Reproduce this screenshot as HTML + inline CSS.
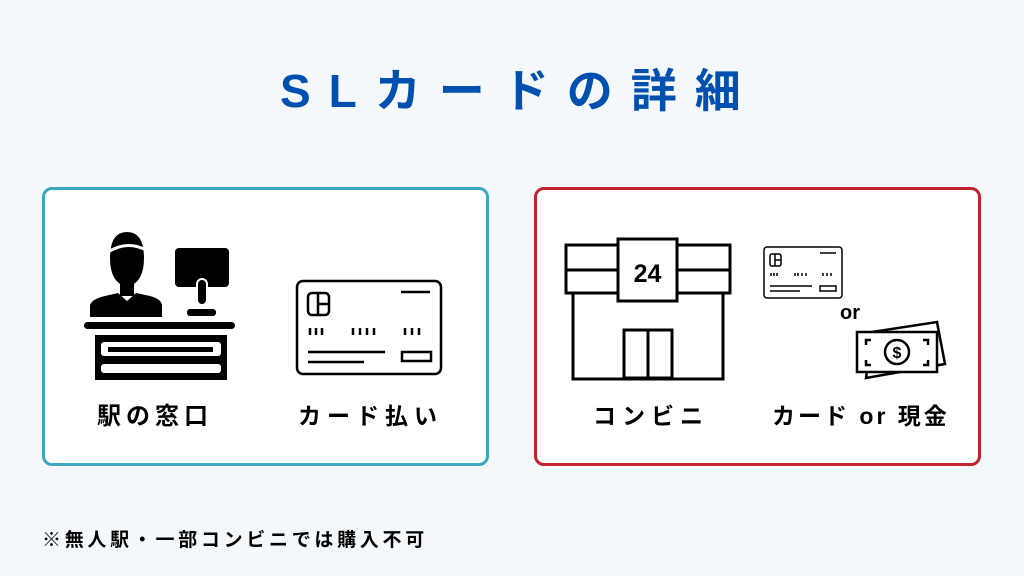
<!DOCTYPE html>
<html><head><meta charset="utf-8"><style>
body{margin:0;width:1024px;height:576px;background:#f4f8fb;position:relative;overflow:hidden;font-family:"Liberation Sans","Noto Sans CJK JP",sans-serif;}
.t{position:absolute;font-weight:bold;white-space:nowrap;line-height:1;}
.box{position:absolute;top:187px;width:441px;height:273px;background:#fff;border-radius:10px;border:3px solid;}
</style></head><body>
<div class="t" style="left:280px;top:68px;font-size:46px;color:#0050b0;letter-spacing:18px;">SLカードの詳細</div>
<div class="box" style="left:42px;border-color:#3aa9bd"></div>
<div class="box" style="left:534px;border-color:#c0222e"></div>
<svg width="1024" height="576" style="position:absolute;left:0;top:0">
<path d="M110 258 Q110 232 127 232 Q144 232 144 258 Q144 283 127 287 Q110 283 110 258Z" fill="#000"/>
<path d="M108 252 Q127 240 146 250" stroke="#fff" stroke-width="3" fill="none"/>
<rect x="120" y="284" width="14" height="12" fill="#000"/>
<path d="M90 317 L90 305 Q92 299 105 296 L118 293 L127 301 L136 293 L150 296 Q161 299 162 305 L162 317Z" fill="#000"/>
<rect x="175" y="248" width="54" height="39" rx="4" fill="#000"/>
<rect x="197" y="279" width="10" height="26" rx="5" fill="#000" stroke="#fff" stroke-width="2"/>
<rect x="187" y="309" width="29" height="7" rx="3" fill="#000"/>
<rect x="84" y="322" width="151" height="7" rx="3.5" fill="#000"/>
<rect x="95" y="335" width="132" height="45" fill="#000"/>
<rect x="101" y="342" width="120" height="14" rx="3" fill="#fff"/>
<rect x="108" y="347" width="105" height="5" fill="#000"/>
<rect x="101" y="364" width="120" height="9" rx="3" fill="#fff"/>
<g fill="none" stroke="#000" stroke-width="2.5">
<rect x="297" y="281" width="144" height="93" rx="6"/>
<rect x="308" y="293" width="21" height="22" rx="4"/>
<path d="M318 293V315M318 304H329"/>
<path d="M401 292H430M308 352H385M308 362H364"/>
<rect x="402" y="352" width="29" height="9"/>
<path d="M310 328v7M316 328v7M322 328v7M353 328v7M360 328v7M367 328v7M374 328v7M405 328v7M412 328v7M419 328v7"/>
</g>
<g fill="none" stroke="#000" stroke-width="3">
<rect x="566" y="245" width="164" height="48" fill="#fff"/>
<path d="M566 270H730"/>
<rect x="573" y="293" width="150" height="86"/>
<rect x="624" y="330" width="48" height="48"/>
<path d="M648 330V378"/>
<rect x="618" y="239" width="59" height="62" fill="#fff"/>
</g>
<text x="647.5" y="282" font-size="25" font-weight="bold" text-anchor="middle" font-family="Liberation Sans">24</text>
<g fill="none" stroke="#000" stroke-width="1.5">
<rect x="764" y="247" width="78" height="51" rx="3"/>
<rect x="770" y="254" width="11" height="12" rx="2"/>
<path d="M775 254V266M775 260H781M820 253H836M770 286H812M770 291H800"/>
<rect x="820" y="286" width="16" height="5"/>
<path d="M771 273v3M774 273v3M777 273v3M795 273v3M798 273v3M802 273v3M806 273v3M823 273v3M827 273v3M831 273v3"/>
</g>
<text x="850" y="319" font-size="20" font-weight="bold" text-anchor="middle" font-family="Liberation Sans">or</text>
<g fill="#fff" stroke="#000" stroke-width="2.5">
<path d="M872 332 L937 322 L945 364 L866 378Z"/>
<rect x="857" y="332" width="80" height="40"/>
<circle cx="897" cy="352" r="12"/>
<path d="M866 345V340H871M928 345V340H923M866 360V365H871M928 360V365H923" fill="none"/>
</g>
<text x="897" y="358" font-size="16" font-weight="bold" text-anchor="middle" font-family="Liberation Sans">$</text>
</svg>
<div class="t" style="left:97px;top:405px;font-size:24px;letter-spacing:5px;">駅の窓口</div>
<div class="t" style="left:298px;top:405px;font-size:23px;letter-spacing:6px;">カード払い</div>
<div class="t" style="left:593px;top:405px;font-size:23px;letter-spacing:6px;">コンビニ</div>
<div class="t" style="left:772px;top:405px;font-size:23px;letter-spacing:3px;">カード or 現金</div>
<div class="t" style="left:42px;top:531px;font-size:19px;letter-spacing:3.7px;">※無人駅・一部コンビニでは購入不可</div>
</body></html>
